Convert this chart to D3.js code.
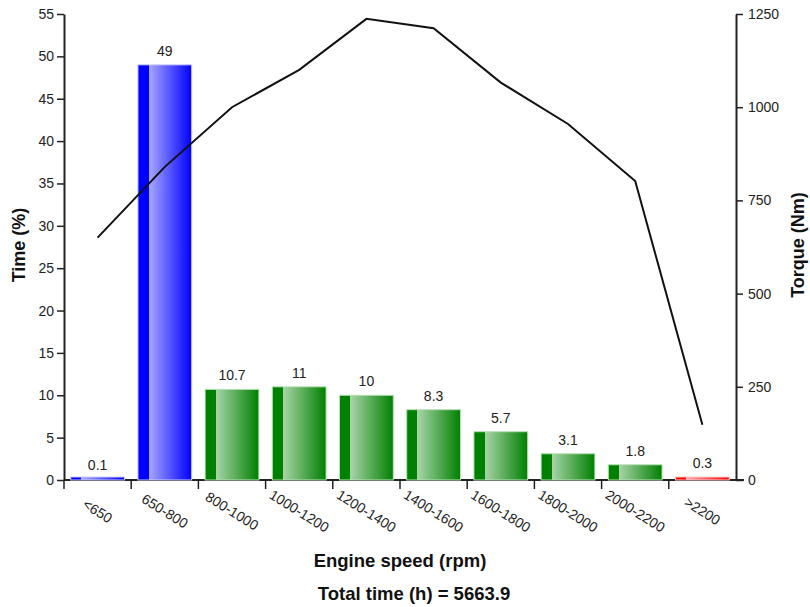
<!DOCTYPE html>
<html><head><meta charset="utf-8">
<script src="https://cdn.jsdelivr.net/npm/d3@7"></script>
<style>body{margin:0;background:#fff}text{font-family:"Liberation Sans",Arial,sans-serif}</style>
</head><body><svg id="c" width="810" height="607"></svg>
<script>
const categories = ["<650","650-800","800-1000","1000-1200","1200-1400","1400-1600","1600-1800","1800-2000","2000-2200",">2200"];
const timeValues = [0.1,49,10.7,11,10,8.3,5.7,3.1,1.8,0.3];
const torqueValues = [650,840,1000,1100,1237,1212,1066,955,802,148];
const barGroups = ["blue","blue","green","green","green","green","green","green","green","red"];
const leftTicks = [0,5,10,15,20,25,30,35,40,45,50,55];
const rightTicks = [0,250,500,750,1000,1250];

const FF = "Liberation Sans, Arial, sans-serif";
const svg = d3.select("#c");
const m = {l:64, r:736, t:14, b:480};
const x = d3.scaleBand().domain(categories).range([m.l, m.r]).paddingInner(0.2).paddingOuter(0.1);
const y = d3.scaleLinear().domain([0,55]).range([m.b, m.t]);
const y2 = d3.scaleLinear().domain([0,1250]).range([m.b, m.t]);

const palettes = {blue:["#0000ff","#a8a8ff","#ccccff"], green:["#008000","#a8d4a8","#b8e0b8"], red:["#ff0000","#ffa8a8","#ffcccc"]};
const defs = svg.append("defs");
Object.entries(palettes).forEach(([k,c])=>{
  const g = defs.append("linearGradient").attr("id","g-"+k).attr("x1","0").attr("x2","1").attr("y1","0").attr("y2","0");
  g.append("stop").attr("offset","0").attr("stop-color",c[0]);
  g.append("stop").attr("offset","0.2").attr("stop-color",c[0]);
  g.append("stop").attr("offset","0.2").attr("stop-color",c[1]);
  g.append("stop").attr("offset","1").attr("stop-color",c[0]);
});

const ax = "#222";
const gl = svg.append("g").attr("transform",`translate(${m.l},0)`).call(d3.axisLeft(y).tickValues(leftTicks).tickSize(7).tickSizeOuter(0));
const gr = svg.append("g").attr("transform",`translate(${m.r},0)`).call(d3.axisRight(y2).tickValues(rightTicks).tickFormat(d3.format("d")).tickSize(7).tickSizeOuter(0));
const gb = svg.append("g").attr("transform",`translate(0,${m.b})`);
gb.append("line").attr("x1",m.l).attr("x2",m.r+8).attr("y1",0).attr("y2",0).attr("stroke",ax).attr("stroke-width",2);
const bounds = d3.range(categories.length).map(i=>m.l + (m.r-m.l)*i/categories.length);
gb.selectAll(".t").data(bounds).join("line").attr("x1",d=>d).attr("x2",d=>d).attr("y1",0).attr("y2",9).attr("stroke",ax).attr("stroke-width",1.5);
gb.selectAll(".lbl").data(categories).join("text")
  .attr("transform",d=>`translate(${x(d)+x.bandwidth()/2},${31}) rotate(32)`)
  .attr("text-anchor","middle").attr("dy","0.35em").attr("font-size",14).attr("fill","#222").text(d=>d);

[gl,gr].forEach(g=>{
  g.selectAll(".domain").attr("stroke",ax).attr("stroke-width",2);
  g.selectAll(".tick line").attr("stroke",ax).attr("stroke-width",1.5);
  g.selectAll(".tick text").attr("font-size",14).attr("fill","#222").attr("font-family",FF);
});
gl.selectAll(".tick text").attr("x",-10);
gr.selectAll(".tick text").attr("x",12);

svg.append("g").selectAll("rect").data(timeValues).join("rect")
  .attr("x",(d,i)=>x(categories[i])).attr("width",x.bandwidth())
  .attr("y",d=>Math.min(y(d), y(0)-3)).attr("height",d=>Math.max(3,y(0)-y(d)))
  .attr("fill",(d,i)=>`url(#g-${barGroups[i]})`)
  .attr("stroke",(d,i)=>palettes[barGroups[i]][2]).attr("stroke-width",1);

svg.append("g").selectAll("text").data(timeValues).join("text")
  .attr("x",(d,i)=>x(categories[i])+x.bandwidth()/2).attr("y",d=>y(d)-9)
  .attr("text-anchor","middle").attr("font-size",14).attr("fill","#222").text(d=>d);

const line = d3.line().x((d,i)=>x(categories[i])+x.bandwidth()/2).y(d=>y2(d));
svg.append("path").datum(torqueValues).attr("d",line).attr("fill","none").attr("stroke","#111").attr("stroke-width",2);

svg.append("text").attr("transform",`translate(25,245) rotate(-90)`).attr("text-anchor","middle")
  .attr("font-size",18).attr("font-weight","bold").attr("fill","#111").text("Time (%)");
svg.append("text").attr("transform",`translate(804,245) rotate(-90)`).attr("text-anchor","middle")
  .attr("font-size",18).attr("font-weight","bold").attr("fill","#111").text("Torque (Nm)");
svg.append("text").attr("x",400).attr("y",567).attr("text-anchor","middle")
  .attr("font-size",18.5).attr("font-weight","bold").attr("fill","#111").text("Engine speed (rpm)");
svg.append("text").attr("x",414).attr("y",600).attr("text-anchor","middle")
  .attr("font-size",18.5).attr("font-weight","bold").attr("fill","#111").text("Total time (h) = 5663.9");
</script></body></html>
